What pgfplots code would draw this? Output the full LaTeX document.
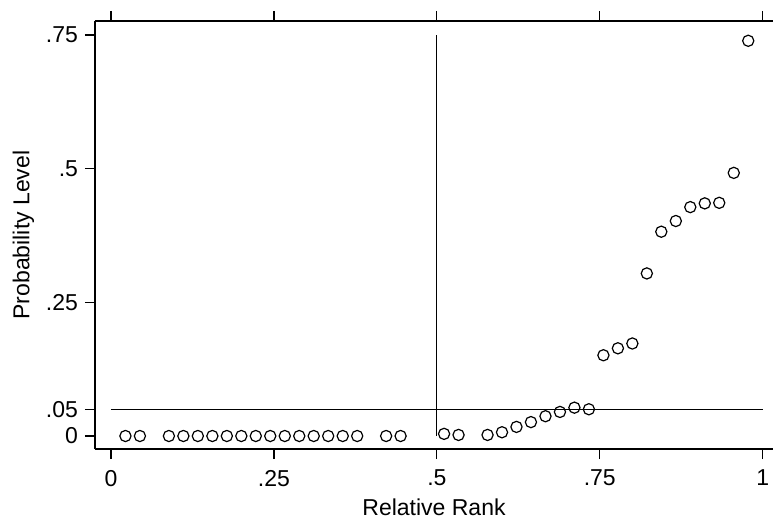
\documentclass[border=0pt]{standalone}
\usepackage{fontspec}
\setmainfont{Liberation Sans}
\usepackage{pgfplots}
\pgfplotsset{compat=1.18}

% relative rank (k/45) and probability level
\pgfplotstableread{
x y
0.0222 0
0.0444 0
0.0889 0
0.1111 0
0.1333 0
0.1556 0
0.1778 0
0.2000 0
0.2222 0
0.2444 0
0.2667 0
0.2889 0
0.3111 0
0.3333 0
0.3556 0
0.3778 0
0.4222 0
0.4444 0
0.5111 0.004
0.5333 0.002
0.5778 0.002
0.6000 0.007
0.6222 0.017
0.6444 0.026
0.6667 0.037
0.6889 0.045
0.7111 0.053
0.7333 0.050
0.7556 0.151
0.7778 0.164
0.8000 0.173
0.8222 0.304
0.8444 0.382
0.8667 0.402
0.8889 0.428
0.9111 0.435
0.9333 0.436
0.9556 0.492
0.9778 0.739
}\ranks

\begin{document}
\begin{tikzpicture}
\begin{axis}[
  name=ax,
  scale only axis,
  width=339pt, height=214pt,
  xmin=-0.0245, xmax=1.0158,
  ymin=-0.0243, ymax=0.776,
  axis x line*=box,
  axis y line*=left,
  axis line style={-, line width=0.6pt},
  tick align=outside,
  major tick length=5pt,
  tick style={line width=0.6pt, black},
  xtick={0,0.25,0.5,0.75,1},
  xticklabels={0,.25,.5,.75,1},
  xticklabel pos=lower,
  ytick={0,0.05,0.25,0.5,0.75},
  yticklabels={0,.05,.25,.5,.75},
  font=\fontsize{11.5}{13}\selectfont,
  tick label style={font=\fontsize{11.5}{13}\selectfont},
  x tick label style={yshift=-2pt},
  /pgf/number format/assume math mode=true,
  xlabel={Relative Rank},
  ylabel={Probability Level},
  label style={font=\fontsize{11.5}{13}\selectfont},
  xlabel style={yshift=0.5pt},
  ylabel style={yshift=-1pt},
  clip=false,
]
  \addplot[black, line width=0.6pt] coordinates {(0.5,0) (0.5,0.75)};
  \addplot[black, line width=0.6pt] coordinates {(0,0.05) (1,0.05)};
  \addplot[only marks, mark=o, mark size=2.8pt,
    mark options={black, line width=0.6pt, fill=white}] table {\ranks};
\end{axis}
\pgfresetboundingbox
\path[use as bounding box] ([shift={(-47.5pt,-34.5pt)}]ax.south west)
  rectangle ([shift={(0.5pt,10.5pt)}]ax.north east);
\end{tikzpicture}
\end{document}
